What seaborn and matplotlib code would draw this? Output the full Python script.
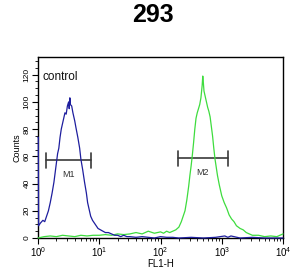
import numpy as np
import pandas as pd
import matplotlib
matplotlib.use("Agg")
import matplotlib.pyplot as plt
import seaborn as sns
from matplotlib.ticker import MultipleLocator

title = "293"
x_label = "FL1-H"
y_label = "Counts"
legend_text = "control"
y_ticks = [0, 20, 40, 60, 80, 100, 120]
x_tick_exp = [0, 1, 2, 3, 4]

# control (blue) histogram: log10(FL1-H) positions and counts
blue_dec = [0.00, 0.005, 0.01, 0.04, 0.08, 0.11, 0.14, 0.17, 0.20, 0.23, 0.26, 0.28,
            0.30, 0.32, 0.34, 0.36, 0.38, 0.40, 0.42, 0.44, 0.46, 0.48, 0.50,
            0.51, 0.52, 0.53, 0.55, 0.57, 0.60, 0.62, 0.65, 0.68, 0.70, 0.73,
            0.76, 0.79, 0.81, 0.84, 0.86, 0.89, 0.92, 0.95, 0.98, 1.02, 1.06,
            1.10, 1.15, 1.20, 1.25, 1.30, 1.35, 1.40, 1.45, 1.50, 1.60, 1.70,
            1.80, 1.90, 2.00, 2.10, 2.20, 2.30, 2.50, 2.70, 2.90, 3.05, 3.10,
            3.15, 3.30, 3.50, 3.70, 3.90, 4.00]
blue_cnt = [74, 74, 9, 11, 13, 12, 16, 20, 26, 33, 41, 48,
            55, 62, 66, 74, 80, 84, 88, 92, 91, 97, 100,
            95, 103, 98, 97, 92, 86, 81, 74, 66, 58, 50,
            41, 33, 26, 20, 16, 13, 11, 9, 7, 6, 5,
            4, 4, 3, 2, 2, 1, 2, 1, 1, 0.5, 1,
            0.5, 0, 1, 0.5, 0.5, 0, 0.5, 0, 0.5, 1.5, 0.5,
            1.5, 0, 0.5, 0, 0, 0]

# sample (green) histogram
green_dec = [0.0, 0.1, 0.2, 0.3, 0.4, 0.5, 0.6, 0.7, 0.8, 0.9, 1.0, 1.1, 1.2,
             1.3, 1.4, 1.5, 1.6, 1.7, 1.8, 1.9, 2.0, 2.05, 2.1, 2.15, 2.2,
             2.25, 2.30, 2.34, 2.37, 2.40, 2.43, 2.46, 2.48, 2.50, 2.52, 2.54,
             2.56, 2.58, 2.60, 2.62, 2.64, 2.66, 2.68, 2.69, 2.70, 2.71, 2.73,
             2.75, 2.77, 2.79, 2.81, 2.83, 2.85, 2.87, 2.89, 2.91, 2.93, 2.96,
             3.00, 3.04, 3.08, 3.12, 3.16, 3.20, 3.24, 3.30, 3.35, 3.40, 3.50,
             3.60, 3.70, 3.80, 3.90, 3.95, 4.00]
green_cnt = [0, 1, 1.5, 1, 2, 1.5, 1, 2, 1.5, 2, 2, 2.5, 2,
             3, 2.5, 3, 4, 3, 5, 3.5, 4.5, 3.5, 5, 4, 5,
             6, 8, 12, 16, 20, 28, 38, 46, 53, 61, 70,
             80, 88, 92, 95, 98, 103, 112, 119, 114, 108, 104,
             100, 96, 93, 89, 82, 75, 66, 58, 52, 46, 39,
             31, 26, 22, 17, 14, 12, 9, 7, 6, 4, 2,
             2, 1, 1.5, 1, 2, 3]

# markers: (name, lower, upper, count level)
marker_names = ["M1", "M2"]
marker_lo = [1.37, 195]
marker_hi = [7.2, 1250]
marker_y = [57, 58.5]

sns.set_style("ticks")
plt.rcParams["font.family"] = ["Liberation Sans", "DejaVu Sans"]
plt.rcParams["mathtext.fontset"] = "custom"
plt.rcParams["mathtext.rm"] = "Liberation Sans"
plt.rcParams["mathtext.it"] = "Liberation Sans"
plt.rcParams["text.color"] = "black"
plt.rcParams["axes.labelcolor"] = "black"
plt.rcParams["xtick.color"] = "black"
plt.rcParams["ytick.color"] = "black"

fig = plt.figure(figsize=(3.06, 2.80), dpi=100)
ax = fig.add_axes([38 / 306, 42 / 280, 245 / 306, 181 / 280])

blue_df = pd.DataFrame({"x": np.power(10.0, blue_dec), "y": blue_cnt})
green_df = pd.DataFrame({"x": np.power(10.0, green_dec), "y": green_cnt})

sns.lineplot(data=green_df, x="x", y="y", ax=ax, color="#3edc3e", lw=0.9,
             estimator=None, sort=False)
sns.lineplot(data=blue_df, x="x", y="y", ax=ax, color="#1e1e9e", lw=0.9,
             estimator=None, sort=False)
for ln in ax.lines:
    ln.set_zorder(3)
    ln.set_clip_on(False)

ax.set_xscale("log")
ax.set_xlim(1, 10000)
ax.set_ylim(0, 133)

for name, lo, hi, yv in zip(marker_names, marker_lo, marker_hi, marker_y):
    ax.plot([lo, hi], [yv, yv], color="#3a3a3a", lw=1.2)
    ax.plot([lo, lo], [yv - 5.5, yv + 5.5], color="#3a3a3a", lw=1.2)
    ax.plot([hi, hi], [yv - 5.5, yv + 5.5], color="#3a3a3a", lw=1.2)
    ax.text(np.sqrt(lo * hi), yv - 7, name, ha="center", va="top",
            fontsize=6.5, color="#333333")

ax.text(1.2, 118, legend_text, fontsize=8.5, ha="left", va="center", color="#111111")

ax.set_xticks([10.0 ** e for e in x_tick_exp])
ax.set_xticklabels([r"$10^{%d}$" % e for e in x_tick_exp], fontsize=7)
ax.set_yticks(y_ticks)
ax.set_yticklabels([str(v) for v in y_ticks], fontsize=6, rotation=90, va="center")
ax.yaxis.set_minor_locator(MultipleLocator(5))

ax.tick_params(axis="both", which="major", length=4, width=0.8, color="black", pad=1.5)
ax.tick_params(axis="both", which="minor", length=2, width=0.6, color="black")

for s in ax.spines.values():
    s.set_color("black")
    s.set_linewidth(1.0)
    s.set_zorder(2)

ax.set_xlabel(x_label, fontsize=7, labelpad=0)
ax.set_ylabel(y_label, fontsize=6.5, labelpad=1)

fig.text(0.5, 1 - 15 / 280, title, ha="center", va="center", fontsize=18,
         fontweight="bold", color="black")

fig.savefig("out.png", dpi=100)
